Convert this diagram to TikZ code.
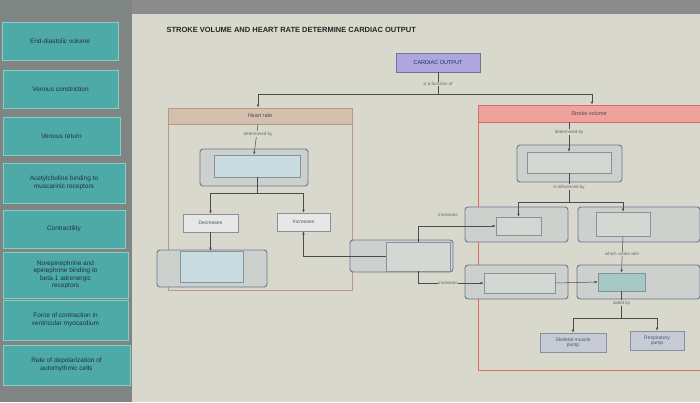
\documentclass[tikz,border=0pt]{standalone}
\usepackage{fontspec}
\setmainfont{Liberation Sans}
\usetikzlibrary{arrows.meta}
\definecolor{bg}{HTML}{D8D9CC}
\definecolor{lpanel}{HTML}{7F8583}
\definecolor{teal}{HTML}{4EAAA6}
\definecolor{tealb}{HTML}{8CCBC6}
\definecolor{ink}{HTML}{1F2F4A}
\definecolor{obox}{HTML}{CDD1CE}
\definecolor{obord}{HTML}{6E7690}
\definecolor{ibox}{HTML}{D3D8D3}
\definecolor{ibord}{HTML}{8890A0}
\definecolor{lblue}{HTML}{C9DCDF}
\definecolor{hrfill}{HTML}{D2BFAE}
\definecolor{hrbord}{HTML}{B89A82}
\definecolor{svfill}{HTML}{EFA29C}
\definecolor{svbord}{HTML}{E06A66}
\definecolor{cofill}{HTML}{ADA6E0}
\tikzset{
 x=1pt,y=-1pt,
 lbox/.style={draw=tealb,fill=teal,line width=0.8pt,inner sep=2pt,align=center,text=ink,font=\fontsize{6.5}{7.5}\selectfont},
 obx/.style={draw=obord,fill=obox,rounded corners=3pt,line width=0.9pt,inner sep=0pt},
 ibx/.style={draw=ibord,fill=ibox,line width=0.6pt,inner sep=0pt},
 wbx/.style={draw=ibord,fill=ibox!60!white,line width=0.6pt,inner sep=0pt,align=center,font=\fontsize{5}{5.5}\selectfont,text=ink!80},
 panel/.style={inner sep=0pt,line width=0.9pt},
 arr/.style={draw=black!70,line width=0.5pt,-{Latex[length=3pt,width=2.5pt]}},
 ln/.style={draw=black!70,line width=0.5pt},
 lab/.style={fill=bg,inner sep=0.5pt,font=\fontsize{4.5}{5}\selectfont,text=black!60},
}
\begin{document}
\begin{tikzpicture}
\useasboundingbox (0,0) rectangle (700,402);
\clip (0,0) rectangle (700,402);
\fill[bg] (0,0) rectangle (700,402);
\fill[black!45] (0,0) rectangle (700,14);
\fill[lpanel] (0,0) rectangle (132,402);
% left boxes
\node[lbox,minimum width=116,minimum height=38] (l1) at (60,41) {End-diastolic volume};
\node[lbox,minimum width=115,minimum height=38] (l2) at (60.5,89) {Venous constriction};
\node[lbox,minimum width=117,minimum height=38] (l3) at (61.5,136) {Venous return};
\node[lbox,minimum width=122,minimum height=40] (l4) at (64,183) {Acetylcholine binding to\\muscarinic receptors};
\node[lbox,minimum width=122,minimum height=38] (l5) at (64,229) {Contractility};
\node[lbox,minimum width=125,minimum height=46] (l6) at (65.5,275) {Norepinephrine and\\epinephrine binding to\\beta-1 adrenergic\\receptors};
\node[lbox,minimum width=125,minimum height=40] (l7) at (65.5,320) {Force of contraction in\\ventricular myocardium};
\node[lbox,minimum width=127,minimum height=40] (l8) at (66.5,365) {Rate of depolarization of\\autorhythmic cells};
% title
\node[font=\bfseries\fontsize{7.5}{8}\selectfont,text=black!85,anchor=west] (title) at (163,30) {STROKE VOLUME AND HEART RATE DETERMINE CARDIAC OUTPUT};
% panels
\node[panel,draw=hrbord,minimum width=184,minimum height=182] (hrp) at (260,199) {};
\node[panel,draw=hrbord,fill=hrfill,minimum width=184,minimum height=16,font=\fontsize{5.5}{6}\selectfont,text=black!70] (hrh) at (260,116) {Heart rate};
\node[panel,draw=svbord,minimum width=222,minimum height=265] (svp) at (589,237.5) {};
\node[panel,draw=svbord,fill=svfill,minimum width=222,minimum height=17,font=\fontsize{5.5}{6}\selectfont,text=black!70] (svh) at (589,113.5) {Stroke volume};
% cardiac output
\node[draw=obord,fill=cofill,line width=0.8pt,minimum width=84,minimum height=19,inner sep=0pt,font=\fontsize{5.5}{6}\selectfont,text=ink] (co) at (438,62.5) {CARDIAC OUTPUT};
% HR boxes
\node[obx,minimum width=108,minimum height=37] (hro) at (254,167.5) {};
\node[ibx,fill=lblue,minimum width=86,minimum height=22] (hri) at (257,166) {};
\node[wbx,minimum width=55,minimum height=18] (dec) at (210.5,223) {Decreases};
\node[wbx,minimum width=53,minimum height=18] (inc) at (303.5,222) {Increases};
\node[obx,minimum width=110,minimum height=37] (hbo) at (212,268.5) {};
\node[ibx,fill=lblue,minimum width=63,minimum height=31] (hbi) at (211.5,266.5) {};
% middle
\node[obx,minimum width=103,minimum height=32] (mo) at (401.5,256) {};
\node[ibx,minimum width=64,minimum height=29] (mi) at (418,256.5) {};
% SV boxes
\node[obx,minimum width=105,minimum height=37] (svo) at (569.5,163.5) {};
\node[ibx,minimum width=84,minimum height=21] (svi) at (569,162.5) {};
\node[obx,minimum width=103,minimum height=35] (tlo) at (516.5,224.5) {};
\node[ibx,minimum width=45,minimum height=18] (tli) at (518.5,226) {};
\node[obx,minimum width=122,minimum height=35] (tro) at (639,224.5) {};
\node[ibx,minimum width=54,minimum height=24] (tri) at (623,224) {};
\node[obx,minimum width=103,minimum height=34] (llo) at (516.5,282) {};
\node[ibx,minimum width=71,minimum height=20] (lli) at (519.5,283) {};
\node[obx,minimum width=123,minimum height=34] (lro) at (638.5,282) {};
\node[ibx,fill=teal!35!ibox,minimum width=47,minimum height=18] (lri) at (621.5,282) {};
\node[wbx,fill=blue!6!ibox,minimum width=66,minimum height=19] (skel) at (573,342.5) {Skeletal muscle\\pump};
\node[wbx,fill=blue!6!ibox,minimum width=54,minimum height=19] (resp) at (657,340.5) {Respiratory\\pump};
% connectors
\coordinate (cosplit) at (438,94);
\draw[ln] (co.south) -- (cosplit);
\draw[arr] (cosplit) -| ([xshift=-2pt]hrh.north);
\draw[arr] (cosplit) -| ([xshift=3pt]svh.north);
\node[lab] at (438,84) {is a function of};
\draw[arr] ([xshift=-2pt]hrh.south) -- ([xshift=-3pt]hri.north);
\node[lab] at (258,134) {determined by};
\coordinate (hrsplit) at (257,193);
\draw[ln] (hri.south) -- (hrsplit);
\draw[arr] (hrsplit) -| (dec.north);
\draw[arr] (hrsplit) -| (inc.north);
\draw[arr] (dec.south) -- (dec.south |- hbi.north);
\draw[arr] (mi.west) -| (inc.south);
\draw[arr] (svh.south -| svi.north) -- (svi.north);
\node[lab] at (569,132) {determined by};
\coordinate (svsplit) at (569,202);
\draw[ln] (svi.south) -- (svsplit);
\node[lab] at (569,187) {is influenced by};
\draw[arr] (svsplit) -| (tli.north);
\draw[arr] (svsplit) -| (tri.north);
\draw[arr] (mi.north) |- (tli.west);
\node[lab] at (448,215) {increases};
\draw[arr] (mi.south) |- (lli.west);
\node[lab] at (448,283) {increases};
\draw[arr] (tri.south) -- (lri.north);
\node[lab] at (622,254) {which varies with};
\draw[arr] (lli.east) -- (lri.west);
\coordinate (aidsplit) at (621.5,318);
\draw[ln] (lri.south) -- (aidsplit);
\node[lab] at (621.5,303) {aided by};
\draw[arr] (aidsplit) -| (skel.north);
\draw[arr] (aidsplit) -| (resp.north);
\end{tikzpicture}
\end{document}
